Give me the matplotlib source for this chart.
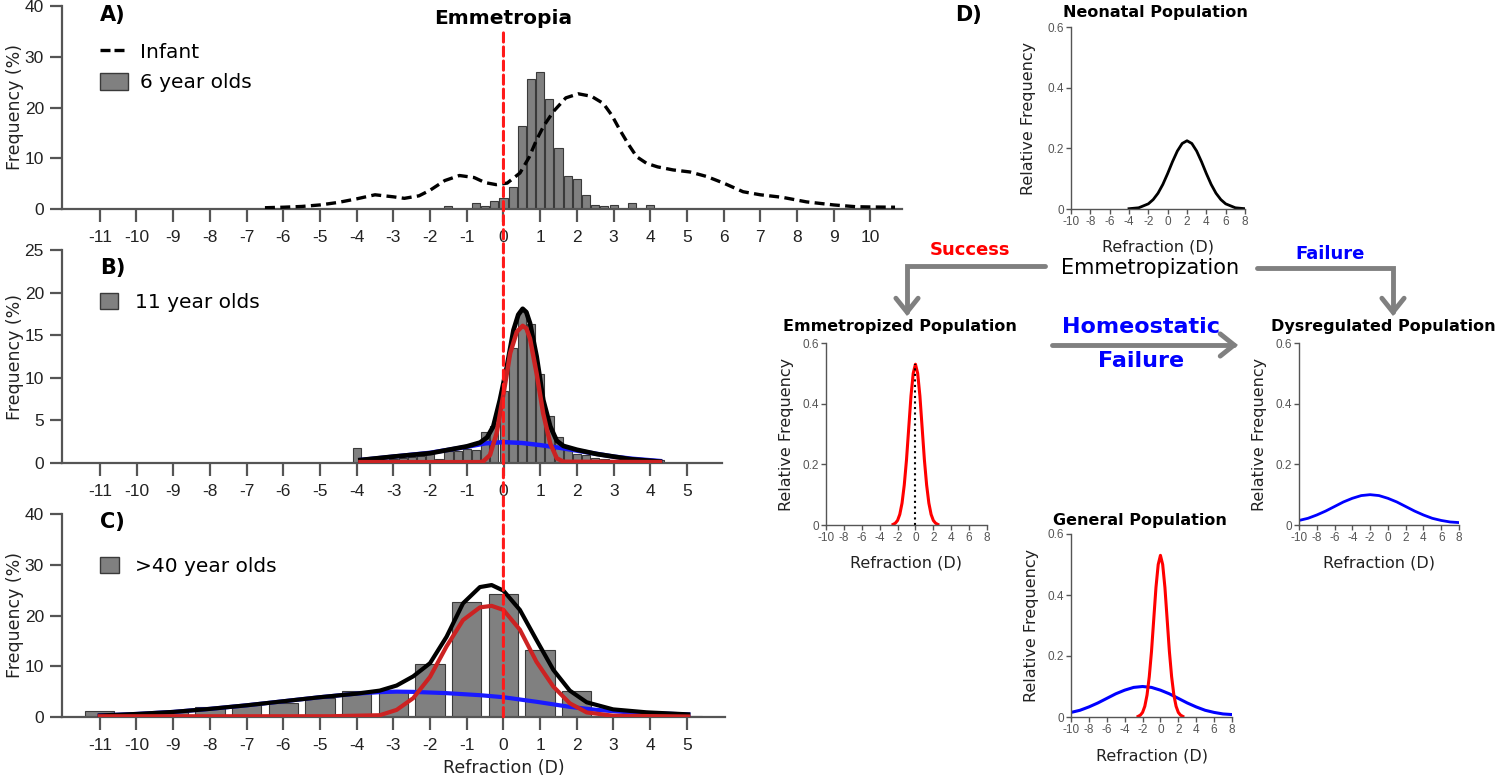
import matplotlib
matplotlib.use("Agg")
import matplotlib.pyplot as plt
from matplotlib.lines import Line2D
from matplotlib.patches import Patch, ConnectionPatch, FancyArrowPatch
from matplotlib.path import Path

plt.rcParams['font.family'] = 'DejaVu Sans'
plt.rcParams['axes.unicode_minus'] = False

# ---- panel A: 6 year olds histogram + infant distribution
a_centers = [-1.5, -0.75, -0.5, -0.25, 0, 0.25, 0.5, 0.75, 1.0, 1.25, 1.5, 1.75,
             2.0, 2.25, 2.5, 2.75, 3.0, 3.5, 4.0]
a_values = [0.5, 1.2, 0.5, 1.6, 2.1, 4.3, 16.4, 25.6, 27.0, 21.6, 12.0, 6.6,
            6.0, 2.8, 0.85, 0.5, 0.85, 1.2, 0.7]
infant_x = [-6.5, -6.0, -5.5, -5.0, -4.5, -4.0, -3.5, -3.0, -2.7, -2.3, -2.0, -1.6,
            -1.2, -0.8, -0.5, -0.2, 0.1, 0.45, 0.7, 0.9, 1.1, 1.36, 1.7, 2.04,
            2.4, 2.72, 2.95, 3.17, 3.4, 3.63, 3.9, 4.2, 4.62, 5.08, 5.54, 6.0,
            6.53, 7.0, 7.6, 8.26, 9.0, 9.6, 10.0, 10.67]
infant_y = [0.25, 0.35, 0.5, 0.8, 1.3, 2.0, 2.8, 2.4, 2.1, 2.6, 3.7, 5.6,
            6.6, 6.2, 5.2, 4.8, 5.1, 7.1, 10.2, 13.6, 16.4, 19.2, 21.9, 22.7,
            22.2, 20.8, 18.5, 15.6, 12.8, 10.3, 9.0, 8.3, 7.7, 7.3, 6.4, 5.1,
            3.4, 2.8, 2.3, 1.4, 0.8, 0.45, 0.4, 0.35]

# ---- panel B: 11 year olds
b_centers = [-4.0, -3.75, -3.5, -3.25, -3.0, -2.75, -2.5, -2.25, -2.0, -1.75,
             -1.5, -1.25, -1.0, -0.75, -0.5, -0.25, 0.0, 0.25, 0.5, 0.75,
             1.0, 1.25, 1.5, 1.75, 2.0, 2.25, 2.5, 2.75, 3.0, 3.25, 3.5, 3.75,
             4.0, 4.25]
b_values = [1.8, 0.3, 0.3, 0.4, 0.5, 0.6, 0.7, 0.8, 1.0, 0.5,
            1.4, 1.4, 1.6, 1.5, 3.6, 4.3, 8.4, 13.5, 17.8, 16.3,
            10.5, 5.5, 3.0, 1.5, 1.0, 0.9, 0.6, 0.5, 0.4, 0.3, 0.3, 0.2,
            0.2, 0.3]
b_black_x = [-3.9, -3.0, -2.0, -1.0, -0.64, -0.45, -0.28, -0.1, 0.09, 0.27, 0.4,
             0.52, 0.62, 0.72, 0.9, 1.08, 1.27, 1.45, 1.63, 2.0, 2.54, 3.0, 3.45, 4.26]
b_black_y = [0.35, 0.75, 1.15, 1.95, 2.4, 3.0, 4.3, 7.4, 11.3, 15.6, 17.4,
             18.1, 17.7, 16.4, 12.5, 7.4, 4.3, 2.6, 2.0, 1.55, 1.05, 0.75, 0.45, 0.16]
b_red_x = [-3.9, -0.64, -0.55, -0.37, -0.19, 0.0, 0.18, 0.36, 0.52, 0.62, 0.72,
           0.9, 1.08, 1.27, 1.45, 1.63, 4.26]
b_red_y = [0.1, 0.1, 0.2, 0.94, 3.5, 8.2, 12.9, 15.4, 16.1, 15.8, 14.6,
           10.5, 5.8, 2.3, 0.55, 0.15, 0.1]
b_blue_x = [-3.9, -3.0, -2.0, -1.0, -0.5, 0.0, 0.5, 1.0, 1.5, 2.0, 2.5, 3.0, 3.5, 4.26]
b_blue_y = [0.35, 0.75, 1.2, 1.9, 2.3, 2.45, 2.35, 2.1, 1.8, 1.45, 1.1, 0.75, 0.5, 0.23]

# ---- panel C: >40 year olds
c_centers = [-11, -10, -9, -8, -7, -6, -5, -4, -3, -2, -1, 0, 1, 2, 3, 4, 5]
c_values = [1.1, 0.5, 1.0, 1.9, 2.3, 2.8, 3.7, 5.1, 5.0, 10.5, 22.7, 24.3,
            13.3, 5.2, 0.6, 0.3, 0.2]
c_black_x = [-11, -10, -9, -8, -7, -6, -5, -4, -3.37, -2.91, -2.46, -2.0, -1.55,
             -1.1, -0.64, -0.32, 0.0, 0.45, 0.9, 1.36, 1.81, 2.27, 2.99, 3.9, 5.04]
c_black_y = [0.3, 0.6, 1.0, 1.6, 2.3, 3.1, 3.9, 4.6, 5.2, 6.2, 8.0, 10.6, 15.8,
             22.4, 25.6, 26.0, 24.9, 21.1, 15.2, 9.3, 5.2, 2.9, 1.5, 0.92, 0.52]
c_red_x = [-11, -4.73, -3.37, -2.91, -2.46, -2.0, -1.55, -1.1, -0.64, -0.32, 0.0,
           0.45, 0.9, 1.36, 1.81, 2.27, 2.99, 5.04]
c_red_y = [0.15, 0.15, 0.35, 1.4, 3.7, 7.9, 13.9, 19.1, 21.6, 21.9, 21.1,
           17.2, 10.9, 6.0, 2.7, 0.9, 0.25, 0.1]
c_blue_x = [-11, -10, -9, -8, -7, -6, -5, -4, -3.37, -2.91, -2.46, -1.55, -0.64,
            0.0, 0.9, 1.81, 2.54, 3.45, 5.04]
c_blue_y = [0.3, 0.6, 1.0, 1.6, 2.3, 3.1, 3.9, 4.6, 4.9, 5.0, 4.95, 4.7, 4.3,
            3.9, 3.0, 2.0, 1.4, 0.9, 0.5]
emm_line_top = 34.7

# ---- panel D: schematic populations
neo_x = [-4, -3, -2, -1.5, -1, -0.5, 0, 0.5, 1, 1.5, 2, 2.5, 3, 3.5, 4, 4.5,
         5, 5.5, 6, 7, 8]
neo_y = [0.001, 0.004, 0.017, 0.031, 0.052, 0.081, 0.117, 0.156, 0.191, 0.216,
         0.225, 0.216, 0.191, 0.156, 0.117, 0.081, 0.052, 0.031, 0.017, 0.004, 0.001]
emm_x = [-2.5, -2.25, -2.0, -1.75, -1.5, -1.25, -1.0, -0.75, -0.5, -0.25, 0.0,
         0.25, 0.5, 0.75, 1.0, 1.25, 1.5, 1.75, 2.0, 2.25, 2.5]
emm_y = [0.002, 0.006, 0.015, 0.035, 0.072, 0.132, 0.215, 0.32, 0.425, 0.50, 0.53,
         0.50, 0.425, 0.32, 0.215, 0.132, 0.072, 0.035, 0.015, 0.006, 0.002]
dys_x = [-10, -9, -8, -7, -6, -5, -4, -3, -2, -1, 0, 1, 2, 3, 4, 5, 6, 7, 8]
dys_y = [0.015, 0.022, 0.033, 0.046, 0.061, 0.076, 0.088, 0.097, 0.1, 0.097,
         0.088, 0.076, 0.061, 0.046, 0.033, 0.022, 0.015, 0.010, 0.008]

W, H = 1500, 778
GRAY = '#555555'
BAR = '#808080'
RED = '#cc2222'
BLUE = '#1a1aff'


def box(l, r, t, b):
    return [l / W, 1 - b / H, (r - l) / W, (b - t) / H]


def fx(x):
    return x / W


def fy(y):
    return 1 - y / H


def big_style(ax, xmax, ymax, ystep, xticks):
    ax.set_xlim(-12.03, xmax)
    ax.set_ylim(0, ymax)
    for s in ['top', 'right']:
        ax.spines[s].set_visible(False)
    for s in ['left', 'bottom']:
        ax.spines[s].set_color(GRAY)
        ax.spines[s].set_linewidth(1.6)
    ax.set_xticks(xticks, labels=[str(v) for v in xticks],
                  fontfamily='Liberation Sans', fontsize=12.5)
    yt = list(range(0, ymax + 1, ystep))
    ax.set_yticks(yt, labels=[str(v) for v in yt],
                  fontfamily='Liberation Sans', fontsize=12.5)
    ax.tick_params(direction='out', length=9, width=1.6, color=GRAY,
                   labelcolor='#222222', pad=4)
    ax.tick_params(axis='x', pad=6)
    ax.set_ylabel('Frequency (%)', fontsize=12.5, color='#222222')
    ax.yaxis.set_label_coords(-0.045 * 840 / ax.get_position().width / W, 0.5)


def small_style(ax):
    ax.set_xlim(-10, 8)
    ax.set_ylim(0, 0.6)
    for s in ['top', 'right']:
        ax.spines[s].set_visible(False)
    for s in ['left', 'bottom']:
        ax.spines[s].set_color(GRAY)
        ax.spines[s].set_linewidth(1.0)
    xt = list(range(-10, 9, 2))
    ax.set_xticks(xt, labels=[str(v) for v in xt], fontfamily='Liberation Sans',
                  fontsize=8.5, color='#555555')
    ax.set_yticks([0, 0.2, 0.4, 0.6], labels=['0', '0.2', '0.4', '0.6'],
                  fontfamily='Liberation Sans', fontsize=8.5, color='#555555')
    ax.tick_params(direction='out', length=3.5, width=1.0, color=GRAY, pad=1.5)
    ax.set_ylabel('Relative Frequency', fontsize=11.5, color='#222222')
    ax.yaxis.set_label_coords(-0.2, 0.5)
    ax.set_xlabel('Refraction (D)', fontsize=11.5, color='#222222')
    ax.xaxis.set_label_coords(0.5, -0.17)


fig = plt.figure(figsize=(15, 7.78), dpi=100)

axA = fig.add_axes(box(62, 902, 6, 209))
axB = fig.add_axes(box(62, 722, 250, 463))
axC = fig.add_axes(box(62, 725, 514, 717))

big_style(axA, 10.86, 40, 10, list(range(-11, 11)))
big_style(axB, 5.95, 25, 5, list(range(-11, 6)))
big_style(axC, 6.04, 40, 10, list(range(-11, 6)))

# panel A
axA.bar(a_centers, a_values, width=0.22, color=BAR, edgecolor='#3a3a3a',
        linewidth=0.8, zorder=2)
axA.plot(infant_x, infant_y, color='black', lw=2.4, ls=(0, (3, 1.6)), zorder=3)
handlesA = [Line2D([], [], color='black', lw=2.4, ls=(0, (3, 1.2))),
            Patch(facecolor=BAR, edgecolor='#3a3a3a')]
axA.legend(handlesA, ['Infant', '6 year olds'], loc='upper left',
           bbox_to_anchor=(0.045, 0.82), frameon=False, fontsize=14.5,
           handlelength=1.4, handleheight=0.9, handletextpad=0.6,
           labelspacing=0.55, borderpad=0, borderaxespad=0)

# panel B
axB.bar(b_centers, b_values, width=0.22, color=BAR, edgecolor='#3a3a3a',
        linewidth=0.8, zorder=2)
axB.plot(b_blue_x, b_blue_y, color=BLUE, lw=3.2, zorder=3)
axB.plot(b_black_x, b_black_y, color='black', lw=3.4, zorder=4)
axB.plot(b_red_x, b_red_y, color=RED, lw=3.2, zorder=5)
axB.legend([Patch(facecolor=BAR, edgecolor='#3a3a3a')], ['11 year olds'],
           loc='upper left', bbox_to_anchor=(0.058, 0.80), frameon=False,
           fontsize=14.5, handlelength=0.9, handleheight=0.9, handletextpad=0.8,
           borderpad=0, borderaxespad=0)

# panel C
axC.bar(c_centers, c_values, width=0.8, color=BAR, edgecolor='#3a3a3a',
        linewidth=0.8, zorder=2)
axC.plot(c_blue_x, c_blue_y, color=BLUE, lw=3.0, zorder=3)
axC.plot(c_black_x, c_black_y, color='black', lw=3.0, zorder=4)
axC.plot(c_red_x, c_red_y, color=RED, lw=3.0, zorder=5)
axC.legend([Patch(facecolor=BAR, edgecolor='#3a3a3a')], ['>40 year olds'],
           loc='upper left', bbox_to_anchor=(0.058, 0.79), frameon=False,
           fontsize=14.5, handlelength=0.9, handleheight=0.9, handletextpad=0.8,
           borderpad=0, borderaxespad=0)
axC.set_xlabel('Refraction (D)', fontsize=12.5, color='#222222')
axC.xaxis.set_label_coords((0 + 12.03) / (6.04 + 12.03), -0.205)

# emmetropia reference line through panels A-C
con = ConnectionPatch(xyA=(0, emm_line_top), coordsA=axA.transData,
                      xyB=(0, 0), coordsB=axC.transData, color='#ff1a1a',
                      lw=2.2, linestyle=(0, (3, 1.6)), zorder=10)
fig.add_artist(con)
fig.text(fx(503), fy(18), 'Emmetropia', ha='center', va='center',
         fontsize=14.5, fontweight='bold')

for lab, y in [('A)', 15), ('B)', 268), ('C)', 522)]:
    fig.text(fx(100), fy(y), lab, ha='left', va='center', fontsize=15,
             fontweight='bold')
fig.text(fx(955), fy(15), 'D)', ha='left', va='center', fontsize=15,
         fontweight='bold')

# panel D small plots
axN = fig.add_axes(box(1071, 1245, 27, 209))
axE = fig.add_axes(box(826, 987, 343, 525))
axDy = fig.add_axes(box(1299, 1459, 343, 525))
axG = fig.add_axes(box(1071, 1232, 534, 717))
for ax in [axN, axE, axDy, axG]:
    small_style(ax)

axN.plot(neo_x, neo_y, color='black', lw=2)
axE.plot(emm_x, emm_y, color='red', lw=2.2)
axE.vlines(0, 0, max(emm_y), colors='black', linestyles=':', lw=1.5)
axDy.plot(dys_x, dys_y, color='blue', lw=2)
axG.plot(dys_x, dys_y, color='blue', lw=2.2)
axG.plot(emm_x, emm_y, color='red', lw=2.2)

for txt, x, y in [('Neonatal Population', 1155, 12),
                  ('Emmetropized Population', 900, 326),
                  ('Dysregulated Population', 1383, 327),
                  ('General Population', 1140, 521)]:
    fig.text(fx(x), fy(y), txt, ha='center', va='center', fontsize=11.5,
             fontweight='bold')

# flow diagram
fig.text(fx(1150), fy(268), 'Emmetropization', ha='center', va='center',
         fontsize=15)
fig.text(fx(970), fy(250), 'Success', ha='center', va='center', fontsize=13,
         fontweight='bold', color='red')
fig.text(fx(1330), fy(254), 'Failure', ha='center', va='center', fontsize=13,
         fontweight='bold', color='blue')
fig.text(fx(1141), fy(327), 'Homeostatic', ha='center', va='center',
         fontsize=16, fontweight='bold', color='blue')
fig.text(fx(1141), fy(361), 'Failure', ha='center', va='center',
         fontsize=16, fontweight='bold', color='blue')

arrow_paths = [[(1045, 266), (907, 266), (907, 316)],
               [(1257, 268), (1393, 268), (1393, 316)],
               [(1052, 345), (1238, 345)]]
for pts in arrow_paths:
    verts = [(fx(x), fy(y)) for x, y in pts]
    arr = FancyArrowPatch(path=Path(verts), arrowstyle='->,head_length=0.5,head_width=0.4',
                          mutation_scale=20, lw=3.5, color='#808080',
                          transform=fig.transFigure, joinstyle='miter')
    fig.add_artist(arr)

fig.savefig('out.png', dpi=100)
